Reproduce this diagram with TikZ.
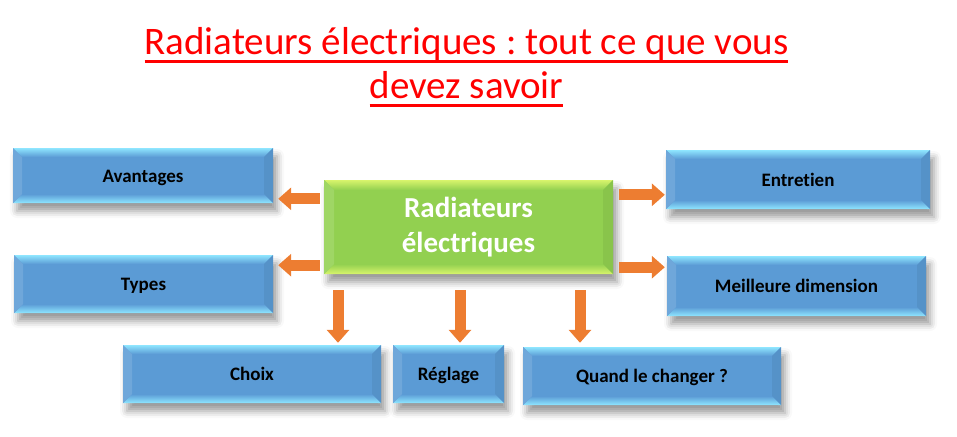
\documentclass[tikz,border=0pt]{standalone}
\usepackage{fontspec}
\setmainfont{Carlito}[Ligatures=NoCommon]
\frenchspacing
\usetikzlibrary{positioning, arrows.meta, shadows.blur}
\definecolor{boxblue}{HTML}{5B9BD5}
\definecolor{boxcyan}{HTML}{8FE6FF}
\definecolor{boxgreen}{HTML}{92D050}
\definecolor{boxlime}{HTML}{D8F46C}
\definecolor{arroworange}{HTML}{ED7D31}
\definecolor{titlered}{HTML}{FF0000}

% underlined title line
\newsavebox{\titlebox}
\newcommand{\titleline}[1]{%
  \sbox{\titlebox}{#1}%
  \leavevmode\rlap{\rule[-8pt]{\wd\titlebox}{2.4pt}}\usebox{\titlebox}}

% bevelled fill: main colour, edge colour, bevel width
\newcommand{\bevelfill}[3]{%
  \path (path picture bounding box.south west) coordinate (bsw)
        (path picture bounding box.north east) coordinate (bne)
        (bsw |- bne) coordinate (bnw)
        (bsw -| bne) coordinate (bse);
  \fill[#1] (bsw) rectangle (bne);
  \shade[top color=#2, bottom color=#1]
    (bnw) -- (bne) -- ([shift={(-#3,-#3)}]bne) -- ([shift={(#3,-#3)}]bnw) -- cycle;
  \shade[top color=#1, bottom color=#2]
    (bsw) -- (bse) -- ([shift={(-#3,#3)}]bse) -- ([shift={(#3,#3)}]bsw) -- cycle;
  \fill[#1!88!white]
    (bsw) -- ([shift={(#3,#3)}]bsw) -- ([shift={(#3,-#3)}]bnw) -- (bnw) -- cycle;
  \fill[#1!94!black]
    (bse) -- ([shift={(-#3,#3)}]bse) -- ([shift={(-#3,-#3)}]bne) -- (bne) -- cycle;
}

\begin{document}
\begin{tikzpicture}[
    x=1pt, y=-1pt,
    box/.style={inner sep=0pt, align=center,
                blur shadow={shadow xshift=4pt, shadow yshift=-8pt,
                             shadow blur radius=7pt, shadow opacity=40}},
    bluebox/.style={box, font=\bfseries\fontsize{19}{22}\selectfont,
                    text height=16pt, text depth=3pt,
                    path picture={\bevelfill{boxblue}{boxcyan}{9pt}}},
    mainbox/.style={box, text=white, font=\bfseries\fontsize{29}{35}\selectfont,
                    path picture={\bevelfill{boxgreen}{boxlime}{10pt}}},
    title/.style={align=center, text=titlered,
                  font=\fontsize{39}{44}\selectfont},
    flow/.style={draw=arroworange, line width=11pt,
                 -{Triangle[width=22pt, length=13pt]}},
  ]
  \useasboundingbox (0,0) rectangle (957,436);

  \node[title] (titre) at (466.5,67)
    {\titleline{Radiateurs électriques : tout ce que vous}\\\titleline{devez savoir}};

  \node[mainbox, minimum width=289pt, minimum height=94pt] (c) at (468.5,227)
    {Radiateurs\\électriques};

  \node[bluebox, minimum width=260pt, minimum height=55pt] (avant) at (143,175.5) {Avantages};
  \node[bluebox, minimum width=259pt, minimum height=58pt] (types) at (143.5,284) {Types};
  \node[bluebox, minimum width=264pt, minimum height=59pt] (entr) at (798,179.5) {Entretien};
  \node[bluebox, minimum width=259pt, minimum height=60pt] (meil) at (796.5,286) {Meilleure dimension};
  \node[bluebox, minimum width=258pt, minimum height=58pt] (choix) at (252,374) {Choix};
  \node[bluebox, minimum width=111pt, minimum height=58pt] (regl) at (448.5,374) {Réglage};
  \node[bluebox, minimum width=258pt, minimum height=58pt] (quand) at (652,376) {Quand le changer ?};

  % arrows out of the centre box
  \coordinate (la) at ([yshift=-19pt]c.north west);
  \coordinate (lb) at ([yshift=9pt]c.south west);
  \coordinate (ra) at ([yshift=-15pt]c.north east);
  \coordinate (rb) at ([yshift=7pt]c.south east);
  \coordinate (da) at ([xshift=-130.5pt]c.south);
  \coordinate (db) at ([xshift=-8.5pt]c.south);
  \coordinate (dc) at ([xshift=111.5pt]c.south);
  \draw[flow, shorten <=4pt, shorten >=5pt] (la) -- (la -| avant.east);
  \draw[flow, shorten <=4pt, shorten >=5pt] (lb) -- (lb -| types.east);
  \draw[flow, shorten <=6pt, shorten >=1pt] (ra) -- (ra -| entr.west);
  \draw[flow, shorten <=6pt, shorten >=2pt] (rb) -- (rb -| meil.west);
  \draw[flow, shorten <=16pt, shorten >=2pt] (da) -- (da |- choix.north);
  \draw[flow, shorten <=16pt, shorten >=2pt] (db) -- (db |- regl.north);
  \draw[flow, shorten <=16pt, shorten >=4pt] (dc) -- (dc |- quand.north);
\end{tikzpicture}
\end{document}
